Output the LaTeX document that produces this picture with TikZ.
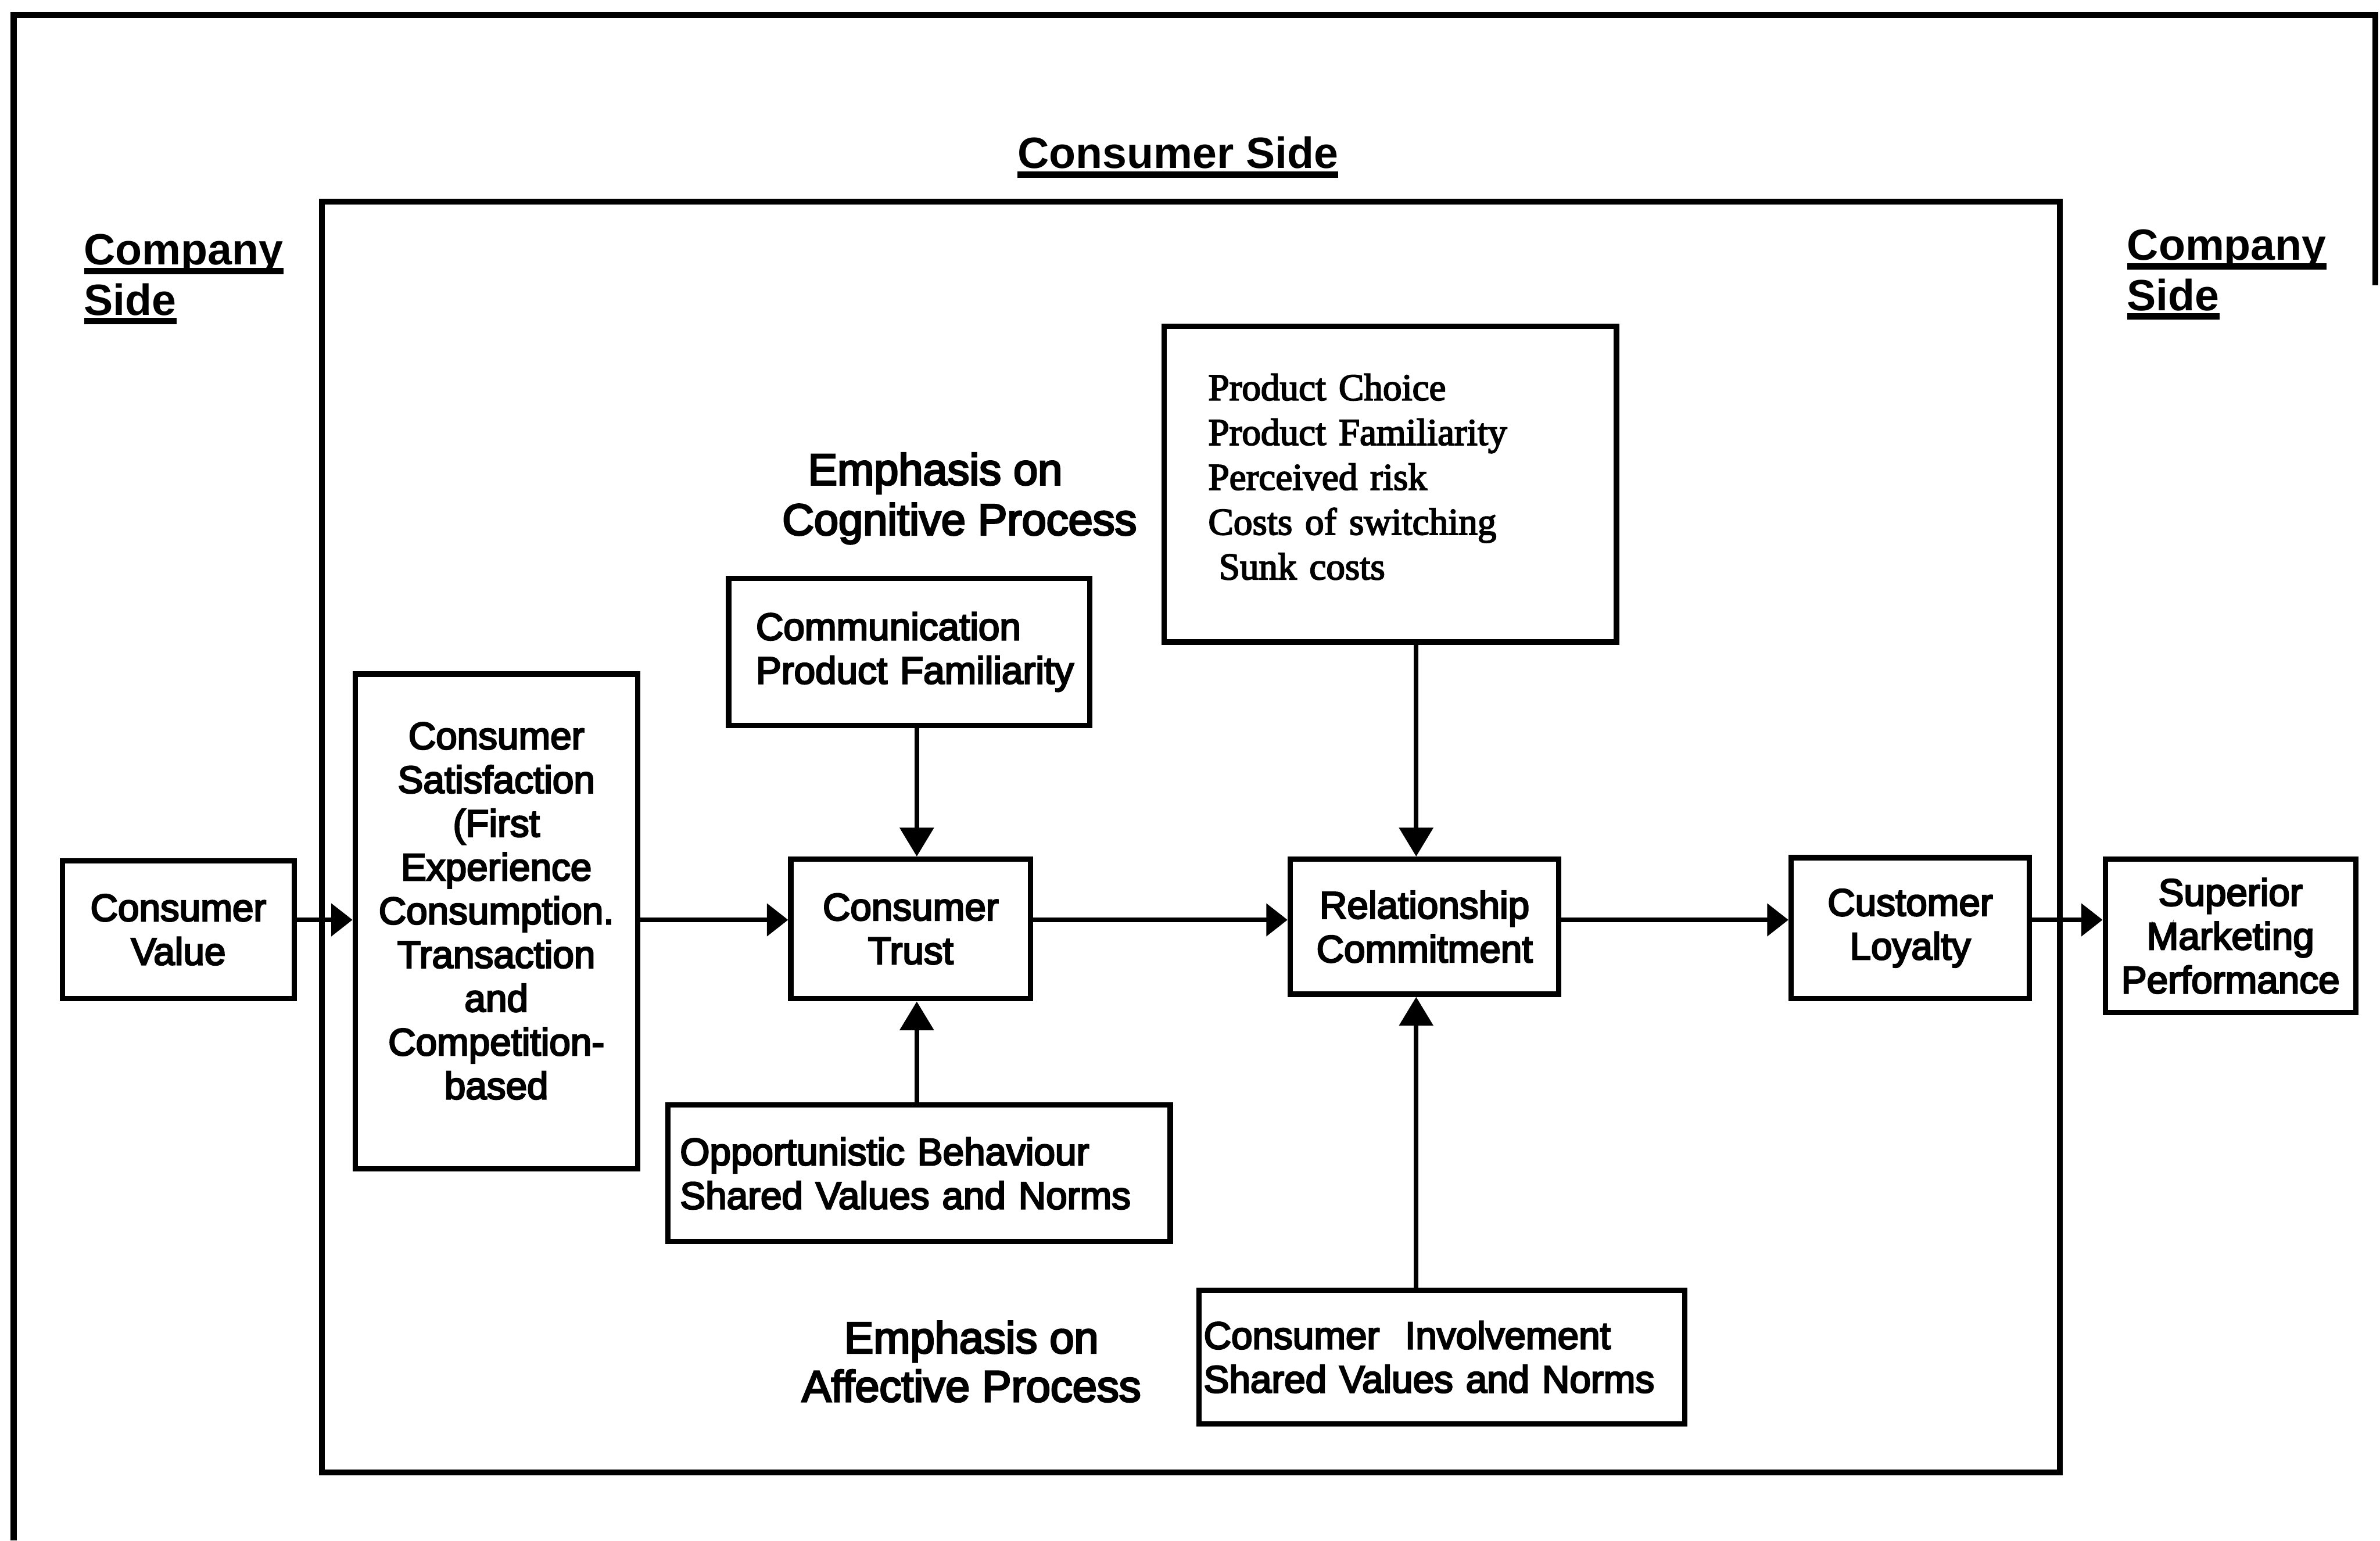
\documentclass[tikz,border=0pt]{standalone}
\usepackage{fontspec}
\setmainfont{Liberation Sans}
\newfontfamily\boxsans{Liberation Sans}[FakeBold=4]
\newfontfamily\boxserif{Liberation Serif}[FakeBold=3]
\usetikzlibrary{arrows.meta}

% heavy underline for the section headings
\newsavebox\ulinebox
\newcommand{\ulb}[1]{\sbox\ulinebox{#1}\rlap{\rule[-0.21em]{\wd\ulinebox}{0.14em}}\usebox\ulinebox}
% invisible depth below a last line, lifting a centred text block
\newcommand{\lift}[1]{\rule[-#1]{0pt}{0pt}}

\begin{document}
\begin{tikzpicture}[x=0.02cm, y=-0.02cm,
  box/.style={draw, line width=2pt, inner sep=0pt,
    font=\boxsans\fontsize{14.3pt}{16.4pt}\selectfont},
  cbox/.style={box, align=center},
  lbox/.style={box, align=left},
  heading/.style={inner sep=0pt, font=\bfseries\fontsize{16.4pt}{18.8pt}\selectfont},
  emph/.style={inner sep=0pt, font=\boxsans\fontsize{16.5pt}{18.8pt}\selectfont},
  conn/.style={line width=1.8pt},
  harrow/.style={conn, -{Triangle[length=0.28cm,width=0.42cm]}},
  varrow/.style={conn, -{Triangle[length=0.38cm,width=0.44cm]}},
  frame/.style={line width=2.2pt, line join=miter}]

\useasboundingbox (0,0) rectangle (1568,1015);

% outer frame and the consumer-side region
\draw[frame] (9,1015) -- (9,10) -- (1565,10) -- (1565,188);
\draw[frame] (212,133) rectangle (1357,970);

% headings
\node[heading, anchor=base] (ctitle) at (776,111) {\ulb{Consumer Side}};
\node[heading, align=left, anchor=north west] (lcomp) at (55,154) {\ulb{Company}\\\ulb{Side}};
\node[heading, align=left, anchor=north west] (rcomp) at (1401,151) {\ulb{Company}\\\ulb{Side}};

\node[emph, align=left, anchor=north west] (cogn) at (515,298)
  {\hspace*{0.34cm}Emphasis on\\Cognitive Process};
\node[emph, align=center, anchor=north, font=\boxsans\fontsize{16.5pt}{18.2pt}\selectfont] (affe) at (640,870)
  {Emphasis on\\Affective Process};

% main chain
\node[cbox, minimum width=3.06cm, minimum height=1.82cm] (cval) at (117.5,612.5) {Consumer\\Value};
\node[cbox, minimum width=3.72cm, minimum height=6.52cm] (csat) at (327,607)
  {Consumer\\Satisfaction\\(First\\Experience\\Consumption.\\Transaction\\and\\Competition-\\based\lift{0.28cm}};
\node[cbox, minimum width=3.16cm, minimum height=1.84cm] (trust) at (600,612) {Consumer\\Trust};
\node[cbox, minimum width=3.54cm, minimum height=1.78cm] (rel) at (938.5,610.5) {Relationship\\Commitment};
\node[cbox, minimum width=3.14cm, minimum height=1.86cm] (loyal) at (1258.5,611.5) {Customer\\Loyalty};
\node[cbox, minimum width=3.30cm, minimum height=2.02cm] (sup) at (1469.5,616.5) {Superior\\Marketing\\Performance};

% antecedent boxes
\node[lbox, text width=4.04cm, inner xsep=0.36cm, minimum height=1.94cm] (comm) at (599,429.5)
  {\mbox{Communication}\\\mbox{Product Familiarity}};
\node[lbox, text width=6.30cm, inner xsep=0.16cm, minimum height=1.80cm] (opp) at (605.5,773)
  {\mbox{Opportunistic Behaviour}\\\mbox{Shared Values and Norms}};
\node[lbox, font=\boxserif\fontsize{14.2pt}{16.8pt}\selectfont,
      text width=4.80cm, inner xsep=0.58cm, minimum height=4.16cm] (prod) at (916,319)
  {Product Choice\\Product Familiarity\\Perceived risk\\Costs of switching\\\hspace*{0.14cm}Sunk costs\lift{0.2cm}};
\node[lbox, text width=6.28cm, inner xsep=0.06cm, minimum height=1.76cm] (inv) at (950,894)
  {\mbox{Consumer~~Involvement}\\\mbox{Shared Values and Norms}};

% connector guides
\coordinate (rowy) at (0,606);
\coordinate (trustx) at (604,0);
\coordinate (relx) at (933,0);

% horizontal flow
\draw[harrow] (cval.east |- rowy) -- (csat.west |- rowy);
\draw[harrow] (csat.east |- rowy) -- (trust.west |- rowy);
\draw[harrow] (trust.east |- rowy) -- (rel.west |- rowy);
\draw[harrow] (rel.east |- rowy) -- (loyal.west |- rowy);
\draw[harrow] (loyal.east |- rowy) -- (sup.west |- rowy);

% vertical influences
\draw[varrow] (comm.south -| trustx) -- (trust.north -| trustx);
\draw[varrow] (opp.north -| trustx) -- (trust.south -| trustx);
\draw[varrow] (prod.south -| relx) -- (rel.north -| relx);
\draw[varrow] (inv.north -| relx) -- (rel.south -| relx);

\end{tikzpicture}
\end{document}
